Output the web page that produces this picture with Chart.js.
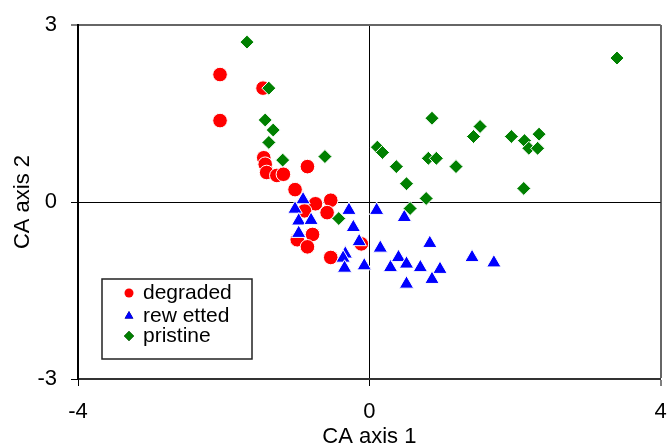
<!DOCTYPE html>
<html>
<head>
<meta charset="utf-8">
<script src="https://cdn.jsdelivr.net/npm/chart.js@4/dist/chart.umd.min.js"></script>
<style>
  body { margin: 0; background: #fff; }
  #wrap { width: 670px; height: 448px; }
</style>
</head>
<body>
<div id="wrap"><canvas id="caChart"></canvas></div>
<script>
const degradedX = [-2.05, -2.05, -1.46, -1.45, -1.43, -1.41, -1.27, -1.18, -0.85, -1.02, -0.74, -0.53, -0.89, -0.58, -0.78, -0.99, -0.85, -0.53, -0.11];
const degradedY = [2.16, 1.38, 1.93, 0.75, 0.64, 0.50, 0.45, 0.47, 0.60, 0.21, -0.03, 0.03, -0.15, -0.18, -0.55, -0.64, -0.76, -0.94, -0.71];

const rewettedX = [-0.33, -0.91, -1.02, -0.97, -0.80, -0.97, -0.28, 0.10, -0.22, -0.14, 0.15, -0.36, -0.34, -0.07, 0.48, 0.29, 0.40, 0.51, 0.70, 0.83, 0.97, 0.51, 0.86, 1.41, 1.71];
const rewettedY = [-0.88, 0.04, -0.12, -0.32, -0.31, -0.53, -0.14, -0.14, -0.43, -0.67, -0.78, -0.95, -1.12, -1.08, -0.26, -1.11, -0.94, -1.05, -1.11, -0.70, -1.14, -1.39, -1.31, -0.94, -1.03];

const pristineX = [-1.68, -1.38, -1.43, -1.32, -1.38, -1.19, -0.61, -0.42, 0.11, 0.18, 0.37, 0.51, 0.78, 0.56, 0.86, 0.81, 0.92, 1.19, 1.43, 1.52, 1.95, 2.13, 2.19, 2.31, 2.33, 2.12, 3.40];
const pristineY = [2.71, 1.93, 1.39, 1.22, 1.01, 0.71, 0.77, -0.28, 0.93, 0.84, 0.60, 0.31, 0.06, -0.11, 1.42, 0.74, 0.74, 0.60, 1.11, 1.28, 1.11, 1.04, 0.91, 0.91, 1.15, 0.23, 2.44];

const seriesNames = ["degraded", "rew etted", "pristine"];
const xTicks = [-4, 0, 4];
const yTicks = [-3, 0, 3];

const toPoints = (xs, ys) => xs.map((x, i) => ({ x: x, y: ys[i] }));

const fontFamily = "'Liberation Sans', Arial, sans-serif";

// legend box drawn inside the plot, like the original
const boxLegend = {
  id: "boxLegend",
  afterDraw(chart) {
    const c = chart.ctx;
    const left = 102, top = 279, w = 150, h = 80;
    c.save();
    c.fillStyle = "#fff";
    c.fillRect(left, top, w, h);
    c.strokeStyle = "#222";
    c.lineWidth = 1.5;
    c.strokeRect(left, top, w, h);
    const rows = [293, 316, 336];
    chart.data.datasets.forEach((ds, i) => {
      Chart.helpers.drawPoint(c, {
        pointStyle: ds.pointStyle,
        radius: ds.legendRadius,
        borderWidth: 0,
        rotation: 0
      }, 129, rows[i]);
      c.fillStyle = ds.backgroundColor;
      c.fill();
      c.fillStyle = "#000";
      c.font = "21px " + fontFamily;
      c.textBaseline = "middle";
      c.fillText(ds.label, 143, rows[i]);
    });
    c.restore();
  }
};

const ctx = document.getElementById("caChart");

new Chart(ctx, {
  type: "scatter",
  data: {
    datasets: [
      {
        label: seriesNames[0],
        data: toPoints(degradedX, degradedY),
        pointStyle: "circle",
        pointRadius: 7.3,
        legendRadius: 4.5,
        backgroundColor: "#ff0000",
        borderColor: "#ffffff",
        borderWidth: 1,
        order: 3,
      },
      {
        label: seriesNames[1],
        data: toPoints(rewettedX, rewettedY),
        pointStyle: "triangle",
        pointRadius: 8.3,
        legendRadius: 5,
        backgroundColor: "#0000ff",
        borderColor: "#ffffff",
        borderWidth: 1,
        order: 2,
      },
      {
        label: seriesNames[2],
        data: toPoints(pristineX, pristineY),
        pointStyle: "rectRot",
        pointRadius: 7,
        legendRadius: 5,
        backgroundColor: "#008000",
        borderColor: "#ffffff",
        borderWidth: 1,
        order: 1,
      },
    ],
  },
  options: {
    responsive: true,
    maintainAspectRatio: false,
    animation: false,
    layout: {
      padding: { left: 0, top: 25, right: 8, bottom: 0 },
    },
    plugins: {
      legend: { display: false },
      tooltip: { enabled: false },
    },
    scales: {
      x: {
        type: "linear",
        min: -4,
        max: 4,
        afterBuildTicks: (s) => { s.ticks = xTicks.map((v) => ({ value: v })); },
        afterFit: (s) => {
          s.height = 69;
          s.paddingLeft = 0;
          s.paddingRight = 0;
        },
        ticks: {
          color: "#000",
          font: { size: 22, family: fontFamily },
          padding: 13,
          maxRotation: 0,
        },
        grid: {
          color: (c) => (c.tick && c.tick.value === 0 ? "#000" : c.tick && c.tick.value === 4 ? "#666" : "rgba(0,0,0,0)"),
          lineWidth: (c) => (c.tick && c.tick.value === 4 ? 2 : 1),
          tickColor: "#000",
          tickLength: 7,
          tickWidth: 1,
        },
        border: { color: "#333", width: 2 },
        title: {
          display: true,
          text: "CA axis 1",
          color: "#000",
          font: { size: 22, family: fontFamily, lineHeight: 1 },
          padding: { top: 0, bottom: 0 },
        },
      },
      y: {
        type: "linear",
        min: -3,
        max: 3,
        afterBuildTicks: (s) => { s.ticks = yTicks.map((v) => ({ value: v })); },
        afterFit: (s) => {
          s.width = 78;
          s.paddingTop = 0;
          s.paddingBottom = 0;
        },
        ticks: {
          color: "#000",
          font: { size: 22, family: fontFamily },
          padding: 14,
        },
        grid: {
          color: (c) => (c.tick && c.tick.value === 0 ? "#000" : c.tick && c.tick.value === 3 ? "#666" : "rgba(0,0,0,0)"),
          lineWidth: (c) => (c.tick && c.tick.value === 3 ? 2 : 1),
          tickColor: "#000",
          tickLength: 7,
          tickWidth: 1,
        },
        border: { color: "#000", width: 2 },
        title: {
          display: true,
          text: "CA axis 2",
          color: "#000",
          font: { size: 22, family: fontFamily, lineHeight: 1 },
          padding: { top: 12, bottom: 0 },
        },
      },
    },
  },
  plugins: [boxLegend],
});
</script>
</body>
</html>
